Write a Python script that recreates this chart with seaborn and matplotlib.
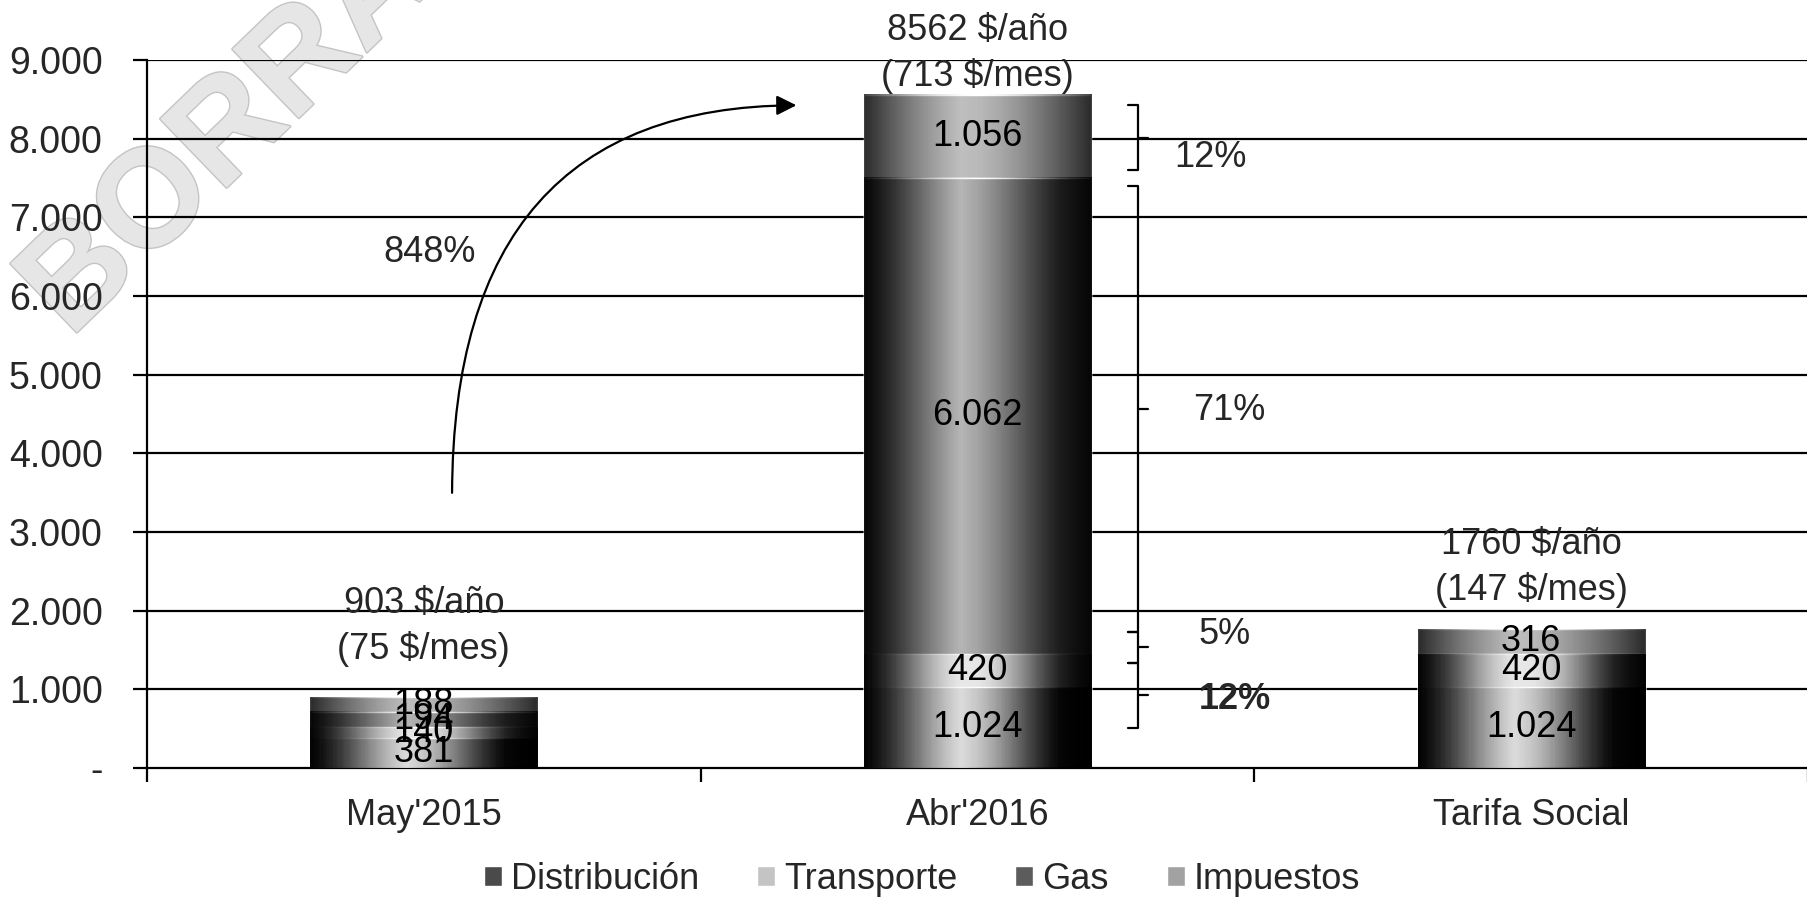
import numpy as np
import pandas as pd
import matplotlib.pyplot as plt
import matplotlib.patheffects as pe
import seaborn as sns

categorias = ["May'2015", "Abr'2016", "Tarifa Social"]
componentes = ["Distribución", "Transporte", "Gas", "Impuestos"]
distribucion = [381, 1024, 1024]
transporte = [140, 420, 420]
gas = [194, 6062, 0]
impuestos = [188, 1056, 316]
etiquetas = [["381", "140", "194", "188"],
             ["1.024", "420", "6.062", "1.056"],
             ["1.024", "420", "", "316"]]
totales_txt = ["903 $/año\n(75 $/mes)", "8562 $/año\n(713 $/mes)", "1760 $/año\n(147 $/mes)"]
yticks = [0, 1000, 2000, 3000, 4000, 5000, 6000, 7000, 8000, 9000]
ytick_labels = ["-", "1.000", "2.000", "3.000", "4.000", "5.000", "6.000", "7.000", "8.000", "9.000"]

colores = {"Distribución": "#4a4a4a", "Transporte": "#c4c4c4",
           "Gas": "#5c5c5c", "Impuestos": "#a2a2a2"}

sns.set_theme(style="white")
plt.rcParams['font.family'] = ['Liberation Sans', 'DejaVu Sans']

df = pd.DataFrame({"cat": categorias, "Distribución": distribucion,
                   "Transporte": transporte, "Gas": gas, "Impuestos": impuestos})
acum = df[componentes].cumsum(axis=1)

fig = plt.figure(figsize=(18.08, 8.99), dpi=100)
ax = fig.add_axes([0.0813, 0.146, 0.9187, 0.787])
ax.patch.set_alpha(0)

ax.set_axisbelow(True)
for y in yticks[1:]:
    ax.axhline(y, color="black", lw=1.6, zorder=0)

# stacked: draw cumulative from top layer down
for comp in reversed(componentes):
    sns.barplot(x=df["cat"], y=acum[comp], color=colores[comp], width=0.41,
                saturation=1, ax=ax, label=comp, zorder=2)

# cylindrical shading on each bar
shade = np.linspace(-1, 1, 200)
img = np.zeros((1, 200, 4))
img[0, :, 3] = np.clip(np.abs(shade) ** 1.6 * 0.75, 0, 1)
hl = np.zeros((1, 200, 4))
hl[0, :, :3] = 1
hl[0, :, 3] = np.clip((1 - np.abs(shade + 0.15)) ** 2 * 0.35, 0, 1)
for p in ax.patches:
    x0, y0 = p.get_x(), p.get_y()
    w, h = p.get_width(), p.get_height()
    if h <= 0:
        continue
    ax.imshow(img, extent=[x0, x0 + w, y0, y0 + h], aspect="auto", zorder=2.5)
    ax.imshow(hl, extent=[x0, x0 + w, y0, y0 + h], aspect="auto", zorder=2.6)

# segment labels
for i in range(len(categorias)):
    base = 0
    for j, comp in enumerate(componentes):
        v = df[comp][i]
        if v > 0 and etiquetas[i][j]:
            ax.text(i, base + v / 2, etiquetas[i][j], ha="center", va="center",
                    fontsize=26, color="black", zorder=5)
        base += v

# totals
tot_y = [1800, 9090, 2550]
for i, t in enumerate(totales_txt):
    ax.text(i, tot_y[i], t, ha="center", va="center", fontsize=26,
            linespacing=1.35, clip_on=False, zorder=5)

# curved arrow and growth
ax.annotate("", xy=(0.678, 8427), xytext=(0.051, 3462),
            arrowprops=dict(arrowstyle="-|>", color="black", lw=1.6,
                            mutation_scale=30,
                            connectionstyle="angle3,angleA=90,angleB=0"))
ax.text(-0.073, 6560, "848%", fontsize=26, ha="left", va="center")

# brackets to the right of Abr'2016
def llave(y0, y1, x=1.29, d=0.018):
    ym = (y0 + y1) / 2
    ax.plot([x - d, x, x, x - d], [y0, y0, y1, y1], color="black", lw=1.6,
            zorder=4)
    ax.plot([x, x + d], [ym, ym], color="black", lw=1.6, zorder=4)

llave(7600, 8425)
llave(1728, 7395)
llave(1334, 1728)
llave(508, 1334)
ax.text(1.355, 7760, "12%", fontsize=26, va="center")
ax.text(1.39, 4550, "71%", fontsize=26, va="center")
ax.text(1.40, 1690, "5%", fontsize=26, va="center")
ax.text(1.40, 864, "12%", fontsize=26, va="center", fontweight="bold")

ax.set_ylim(0, 9000)
ax.set_xlim(-0.5, 2.5)
ax.set_yticks(yticks)
ax.set_yticklabels(ytick_labels, fontsize=27)
ax.set_xticks(range(len(categorias)))
ax.set_xticklabels(categorias, fontsize=26)
ax.tick_params(axis="x", length=0, pad=22)
ax.tick_params(axis="y", length=10, width=1.6, color="black", left=True,
               pad=22)
ax.set_xticks([-0.5, 0.5, 1.5, 2.5], minor=True)
ax.tick_params(axis="x", which="minor", length=10, width=1.6, color="black",
               bottom=True)
ax.set_xlabel("")
ax.set_ylabel("")
for s in ["top", "right"]:
    ax.spines[s].set_visible(False)
for s in ["left", "bottom"]:
    ax.spines[s].set_color("black")
    ax.spines[s].set_linewidth(1.6)

handles, labels = ax.get_legend_handles_labels()
orden = [labels.index(c) for c in componentes]
ax.legend([handles[k] for k in orden], componentes, loc="center",
          bbox_to_anchor=(0.51, 0.022), bbox_transform=fig.transFigure,
          ncol=4, frameon=False, fontsize=26, handlelength=0.5,
          handleheight=0.5, handletextpad=0.25, columnspacing=1.6)

# watermark, behind the axes
fig.text(0.0, 0.60, "BORRADOR", fontsize=100, fontweight="bold",
         color="#e6e6e6", rotation=44, ha="left", va="bottom", zorder=-1,
         path_effects=[pe.withStroke(linewidth=2, foreground="#c4c4c4")])

fig.savefig("out.png", dpi=100)
plt.close('all')
